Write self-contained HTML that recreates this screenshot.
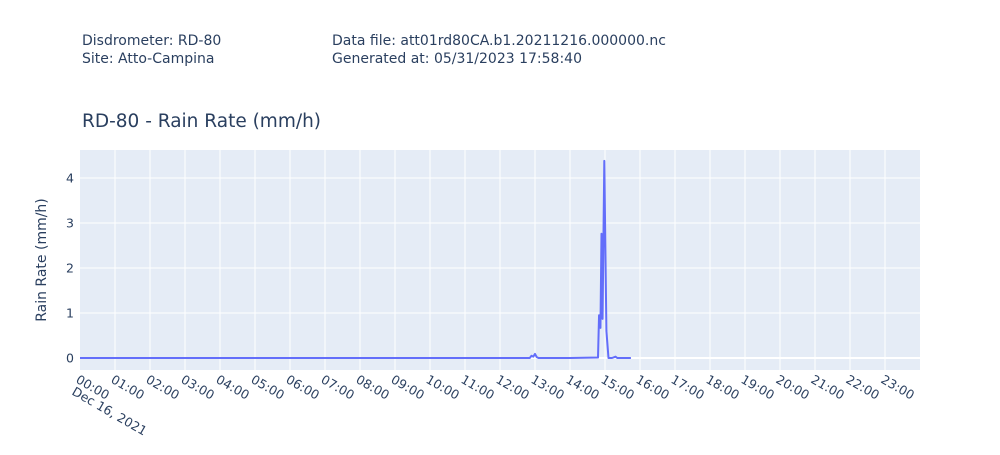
<!DOCTYPE html>
<html><head><meta charset="utf-8"><style>
body{margin:0;background:#fff;}
svg text{font-family:"DejaVu Sans","Liberation Sans",sans-serif;fill:#2a3f5f;}
</style></head><body>
<svg id="chart" width="1000" height="450">
<text x="82" y="45" font-size="14">Disdrometer: RD-80</text>
<text x="82" y="63" font-size="14">Site: Atto-Campina</text>
<text x="332" y="45" font-size="14">Data file: att01rd80CA.b1.20211216.000000.nc</text>
<text x="332" y="63" font-size="14">Generated at: 05/31/2023 17:58:40</text>
<text x="82" y="127" font-size="18.5">RD-80 - Rain Rate (mm/h)</text>
<rect x="80" y="150" width="840" height="220" fill="#e5ecf6"/>
<g id="grid"></g><g id="yticks"></g><g id="xticks"></g><g id="series"></g>
<text transform="translate(46,260) rotate(-90)" text-anchor="middle" font-size="14">Rain Rate (mm/h)</text>
</svg>
<script>
const times=[0,6,12,12.85,12.9,12.95,13.0,13.05,13.1,13.15,14.0,14.8,14.83,14.87,14.9,14.93,14.98,15.04,15.1,15.2,15.3,15.35,15.5,15.74];
const rates=[0,0,0,0,0.05,0.03,0.09,0.02,0,0,0,0.01,0.95,0.67,2.76,0.87,4.38,0.6,0,0,0.03,0,0,0];
const yTicks=[0,1,2,3,4];
const xTickLabels=["00:00","01:00","02:00","03:00","04:00","05:00","06:00","07:00","08:00","09:00","10:00","11:00","12:00","13:00","14:00","15:00","16:00","17:00","18:00","19:00","20:00","21:00","22:00","23:00"];
const NS="http://www.w3.org/2000/svg";
const X=h=>80+h*35, Y=v=>358-v*45;
const grid=document.getElementById('grid'),yt=document.getElementById('yticks'),xt=document.getElementById('xticks'),ser=document.getElementById('series');
yTicks.forEach(v=>{
 if(v>0){const l=document.createElementNS(NS,'line');
 
 
 l.setAttribute('x1',80);l.setAttribute('x2',920);l.setAttribute('y1',Y(v));l.setAttribute('y2',Y(v));l.setAttribute('stroke','#fff');l.setAttribute('stroke-width',1);grid.appendChild(l);}
 const t=document.createElementNS(NS,'text');
 
 
 t.setAttribute('x',74);t.setAttribute('y',Y(v)+4.5);t.setAttribute('text-anchor','end');t.setAttribute('font-size','12.5');t.textContent=v;yt.appendChild(t);
});
const zl=document.createElementNS(NS,'line');


zl.setAttribute('x1',80);zl.setAttribute('x2',920);zl.setAttribute('y1',Y(0));zl.setAttribute('y2',Y(0));zl.setAttribute('stroke','#fff');zl.setAttribute('stroke-width',2);grid.appendChild(zl);
xTickLabels.forEach((s,i)=>{
 const x=X(i+1);
 if(i+1<24){const l=document.createElementNS(NS,'line');
 
 
 l.setAttribute('x1',x);l.setAttribute('x2',x);l.setAttribute('y1',150);l.setAttribute('y2',370);l.setAttribute('stroke','#fff');grid.appendChild(l);}
 const t=document.createElementNS(NS,'text');
 
 
 const tx=X(i),ty=382;
 t.setAttribute('x',tx-5);t.setAttribute('y',ty);t.setAttribute('font-size','12.5');
 t.setAttribute('transform','rotate(30 '+(tx-5)+' '+ty+')');t.textContent=s;xt.appendChild(t);
});
const d=document.createElementNS(NS,'text');


d.setAttribute('x',71);d.setAttribute('y',394);d.setAttribute('font-size','12.5');
d.setAttribute('transform','rotate(30 71 394)');d.textContent='Dec 16, 2021';xt.appendChild(d);
const p=document.createElementNS(NS,'polyline');


p.setAttribute('points',times.map((h,i)=>X(h)+','+Y(rates[i])).join(' '));
p.setAttribute('fill','none');p.setAttribute('stroke','#636efa');p.setAttribute('stroke-width',2);p.setAttribute('stroke-linejoin','round');
ser.appendChild(p);
</script>
</body></html>
